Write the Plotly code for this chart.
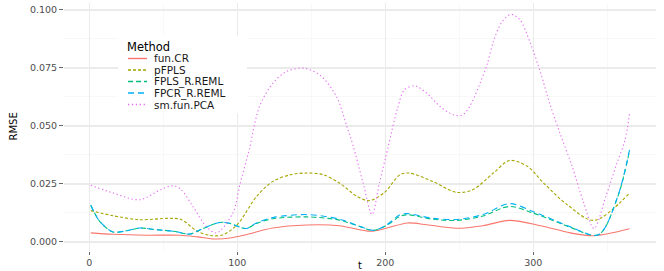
import plotly.graph_objects as go

# ---------------- data ----------------
methods = ["fun.CR", "pFPLS", "FPLS_R.REML", "FPCR_R.REML", "sm.fun.PCA"]
colors = ["#F8766D", "#A3A500", "#00BF7D", "#00B0F6", "#E76BF3"]
dashes = ["solid", "3px,2px", "5px,3px", "6px,4px", "1.3px,2.6px"]

t_funcr = [1, 16, 39, 61, 73, 85, 95, 105, 124, 147, 169, 190, 201, 215, 228, 248,
           266, 284, 305, 325, 341, 365]
rmse_funcr = [0.0039, 0.0033, 0.0029, 0.0029, 0.0022, 0.0013, 0.0017, 0.0030, 0.0060,
              0.0073, 0.0070, 0.0046, 0.0060, 0.0082, 0.0074, 0.0059, 0.0070, 0.0093,
              0.0070, 0.0039, 0.0027, 0.0057]

t_pfpls = [1, 16, 34, 54, 62, 73, 82, 90, 100, 113, 124, 136, 147, 158, 169, 181, 189,
           199, 210, 216, 232, 248, 259, 273, 284, 296, 307, 323, 341, 365]
rmse_pfpls = [0.0135, 0.0113, 0.0096, 0.0102, 0.0097, 0.0046, 0.0028, 0.0030, 0.0075,
              0.0196, 0.0261, 0.0290, 0.0297, 0.0290, 0.0254, 0.0196, 0.0178, 0.0211,
              0.0290, 0.0297, 0.0261, 0.0214, 0.0225, 0.0297, 0.0351, 0.0326, 0.0254,
              0.0160, 0.0093, 0.0211]

t_fr = [1, 7, 16, 25, 34, 45, 57, 68, 75, 88, 95, 106, 113, 124, 147, 169, 183, 192,
        201, 210, 215, 232, 248, 266, 284, 300, 316, 325, 344, 357, 365]
rmse_fpls = [0.0158, 0.0089, 0.0043, 0.0048, 0.0060, 0.0053, 0.0046, 0.0034, 0.0053,
             0.0084, 0.0080, 0.0058, 0.0080, 0.0100, 0.0108, 0.0094, 0.0066, 0.0050,
             0.0072, 0.0111, 0.0117, 0.0098, 0.0093, 0.0112, 0.0153, 0.0124, 0.0086,
             0.0063, 0.0031, 0.0194, 0.0393]
rmse_fpcr = [0.0158, 0.0089, 0.0043, 0.0048, 0.0060, 0.0053, 0.0046, 0.0034, 0.0053,
             0.0084, 0.0080, 0.0058, 0.0082, 0.0105, 0.0118, 0.0098, 0.0067, 0.0050,
             0.0074, 0.0118, 0.0122, 0.0102, 0.0097, 0.0118, 0.0165, 0.0130, 0.0089,
             0.0065, 0.0031, 0.0196, 0.0397]

t_smpca = [1, 16, 34, 49, 57, 62, 70, 79, 86, 97, 102, 108, 115, 124, 133, 145, 156,
           167, 174, 178, 185, 191, 196, 202, 208, 213, 220, 228, 237, 246, 252, 257,
           264, 269, 273, 279, 285, 291, 298, 305, 311, 318, 326, 334, 341, 349, 356,
           362, 365]
rmse_smpca = [0.0244, 0.0211, 0.0182, 0.0228, 0.0242, 0.0226, 0.0153, 0.0067, 0.0039,
              0.0125, 0.0254, 0.0397, 0.0584, 0.0684, 0.0734, 0.0749, 0.0718, 0.0627,
              0.0498, 0.0420, 0.0254, 0.0118, 0.0254, 0.0412, 0.0570, 0.0656, 0.0673,
              0.0641, 0.0584, 0.0548, 0.0547, 0.0584, 0.0684, 0.0770, 0.0864, 0.0950,
              0.0981, 0.0957, 0.0857, 0.0728, 0.0598, 0.0469, 0.0330, 0.0170, 0.0058,
              0.0196, 0.0330, 0.0440, 0.0555]

x_ticks = [0, 100, 200, 300]
y_ticks = [0.000, 0.025, 0.050, 0.075, 0.100]

series = [
    (t_funcr, rmse_funcr),
    (t_pfpls, rmse_pfpls),
    (t_fr, rmse_fpls),
    (t_fr, rmse_fpcr),
    (t_smpca, rmse_smpca),
]

# ---------------- layout geometry ----------------
W, H = 664, 271
ML, MR, MT, MB = 64, 8, 3, 20
PW, PH = W - ML - MR, H - MT - MB
FONT = "DejaVu Sans"


def xp(px):
    return (px - ML) / PW


def yp(py):
    return 1 - (py - MT) / PH


fig = go.Figure()
for name, col, dash, (tx, ty) in zip(methods, colors, dashes, series):
    fig.add_trace(go.Scatter(
        x=tx, y=ty, mode="lines", name=name,
        line=dict(color=col, width=1.1, dash=dash, shape="spline", smoothing=0.9),
        showlegend=False,
    ))

# manual ggplot-style legend inside the panel
shapes = [dict(type="rect", xref="paper", yref="paper", layer="above",
               x0=xp(118), x1=xp(247), y0=yp(113), y1=yp(36),
               fillcolor="white", line=dict(width=0))]
annotations = [dict(text="Method", xref="paper", yref="paper", x=xp(125), y=yp(47.3),
                    xanchor="left", yanchor="middle", showarrow=False,
                    font=dict(family=FONT, size=11.5, color="black"))]
rows = [58.5, 70.0, 81.5, 93.0, 104.5]
for name, col, dash, ry in zip(methods, colors, dashes, rows):
    shapes.append(dict(type="line", xref="paper", yref="paper", layer="above",
                       x0=xp(128), x1=xp(147), y0=yp(ry), y1=yp(ry),
                       line=dict(color=col, width=1.4, dash=dash)))
    annotations.append(dict(text=name, xref="paper", yref="paper", x=xp(152),
                            y=yp(ry), xanchor="left", yanchor="middle",
                            showarrow=False,
                            font=dict(family=FONT, size=10.5, color="#1A1A1A")))

# axis titles
annotations.append(dict(text="t", xref="paper", yref="paper", x=xp(360), y=yp(265),
                        xanchor="center", yanchor="middle", showarrow=False,
                        font=dict(family=FONT, size=10, color="black")))
annotations.append(dict(text="RMSE", xref="paper", yref="paper", x=xp(12.5), y=yp(127),
                        xanchor="center", yanchor="middle", showarrow=False,
                        textangle=-90,
                        font=dict(family=FONT, size=10, color="black")))

fig.update_layout(
    width=W, height=H,
    margin=dict(l=ML, r=MR, t=MT, b=MB, pad=0),
    paper_bgcolor="white", plot_bgcolor="white",
    font=dict(family=FONT, size=9, color="#4D4D4D"),
    shapes=shapes, annotations=annotations,
    showlegend=False,
)
fig.update_xaxes(
    range=[-17.1, 382.9], tickvals=x_ticks, ticktext=[str(v) for v in x_ticks],
    showgrid=True, gridcolor="#EBEBEB", gridwidth=1.1, zeroline=False,
    ticks="outside", ticklen=3, tickcolor="#666666", tickwidth=1,
    showline=False, tickfont=dict(family=FONT, size=9.5, color="#4D4D4D"),
    minor=dict(tickvals=[50, 150, 250, 350], showgrid=True, gridcolor="#F3F3F3",
               gridwidth=0.6, ticks=""),
)
fig.update_yaxes(
    range=[-0.0039, 0.1030], tickvals=y_ticks, ticktext=[f"{v:.3f}" for v in y_ticks],
    showgrid=True, gridcolor="#EBEBEB", gridwidth=1.1, zeroline=False,
    ticks="outside", ticklen=4, tickcolor="#666666", tickwidth=1,
    showline=False, tickfont=dict(family=FONT, size=9.5, color="#4D4D4D"),
    minor=dict(tickvals=[0.0125, 0.0375, 0.0625, 0.0875], showgrid=True,
               gridcolor="#F3F3F3", gridwidth=0.6, ticks=""),
)

fig.write_html("out.html",
               config={"displayModeBar": False, "staticPlot": True},
               post_script="document.body.style.margin='0';"
                           "document.body.style.overflow='hidden';")
